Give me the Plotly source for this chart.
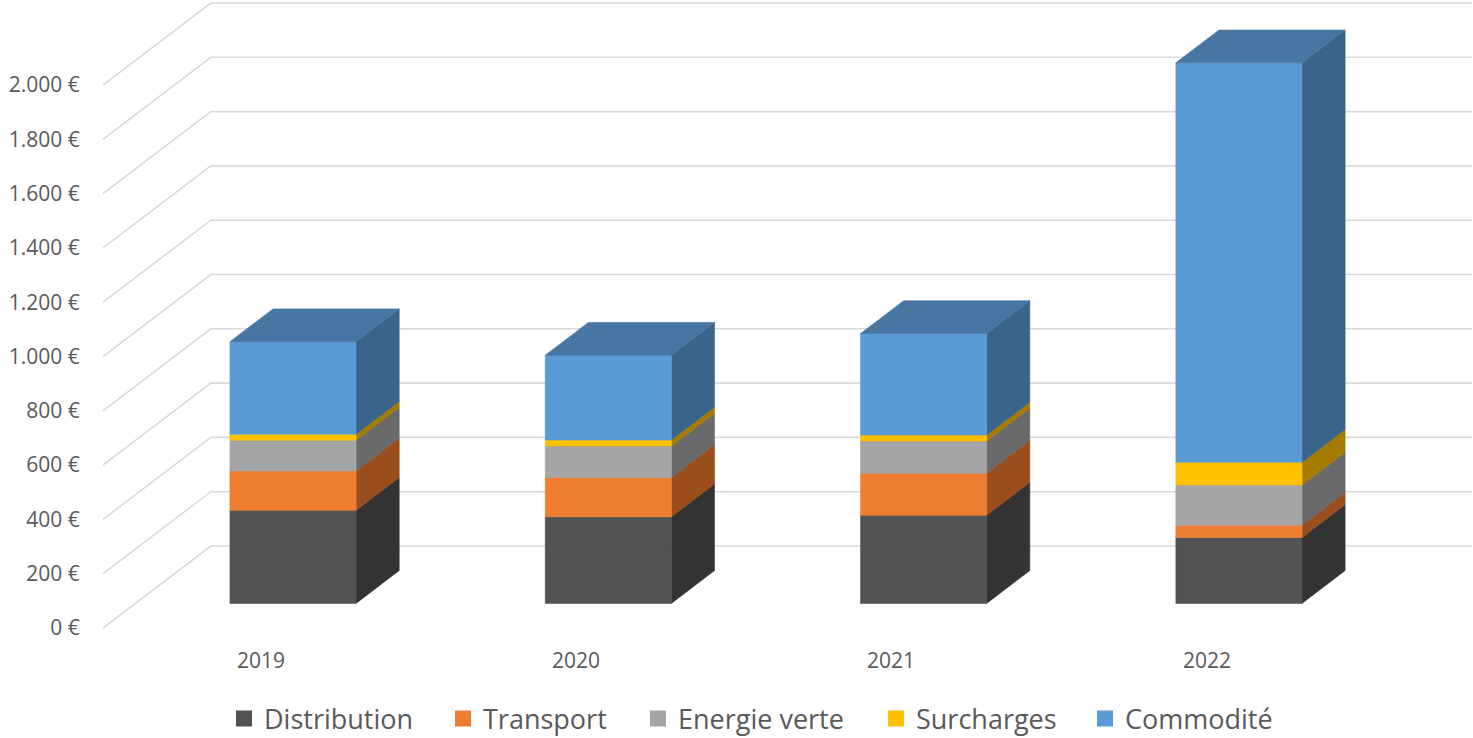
import plotly.graph_objects as go

# ---------------- data ----------------
years = ["2019", "2020", "2021", "2022"]
series_names = ["Distribution", "Transport", "Energie verte", "Surcharges", "Commodité"]
distribution = [343, 319, 325, 243]
transport = [145, 145, 154, 45]
energie_verte = [113, 116, 119, 148]
surcharges = [22, 22, 22, 84]
commodite = [341, 312, 374, 1471]
y_ticks = [0, 200, 400, 600, 800, 1000, 1200, 1400, 1600, 1800, 2000]
y_tick_labels = [f"{v:,}".replace(",", ".") + " €" for v in y_ticks]

series_values = [distribution, transport, energie_verte, surcharges, commodite]

# ---------------- style ----------------
front_colors = ["#525252", "#ED7D31", "#A5A5A5", "#FFC000", "#5B9BD5"]
side_colors = ["#333333", "#9A4E1D", "#6A6A6A", "#A67C00", "#3A6489"]
top_color = "#4676A1"
grid_color = "#D9D9D9"
text_color = "#595959"
FONT = "Open Sans"

W, H = 1473, 738
L_MARGIN = 103
PX_PER_UNIT_Y = 0.2715      # pixels per euro
Y0_PX = 628                 # pixel row of value 0 on the front plane

DX = 0.342   # full floor depth, x units
DY = 302.0   # full floor depth, y units
D0, D1 = 0.3, 0.7   # bar depth span (fraction of floor depth)
HALF_W = 0.2        # half bar width (category units)
X_LEFT, X_RIGHT = -0.5, len(years) - 0.5

# legend entry left-edge pixel positions and category label row
legend_px = [224, 443, 638, 876, 1085]
legend_row_px = 719
cat_label_row_px = 660

fig = go.Figure()

# gridlines (left wall + back wall)
gx, gy = [], []
for v in y_ticks:
    gx += [X_LEFT, X_LEFT + DX, X_RIGHT + DX, None]
    gy += [v, v + DY, v + DY, None]
fig.add_trace(go.Scatter(x=gx, y=gy, mode="lines", line=dict(color=grid_color, width=1.6),
                         hoverinfo="skip", showlegend=False))

ddx = (D1 - D0) * DX
ddy = (D1 - D0) * DY
n = len(years)
cum = [0.0] * n
for k, (name, vals) in enumerate(zip(series_names, series_values)):
    fx, fy, sx, sy = [], [], [], []
    for i in range(n):
        b = cum[i] + D0 * DY
        t = cum[i] + vals[i] + D0 * DY
        c = i + D0 * DX
        xl, xr = c - HALF_W, c + HALF_W
        fx += [xl, xr, xr, xl, xl, None]
        fy += [b, b, t, t, b, None]
        sx += [xr, xr + ddx, xr + ddx, xr, xr, None]
        sy += [b, b + ddy, t + ddy, t, b, None]
    fig.add_trace(go.Scatter(x=sx, y=sy, mode="lines", fill="toself", fillcolor=side_colors[k],
                             line=dict(color=side_colors[k], width=0.6),
                             hoverinfo="skip", showlegend=False))
    fig.add_trace(go.Scatter(x=fx, y=fy, mode="lines", fill="toself", fillcolor=front_colors[k],
                             line=dict(color=front_colors[k], width=0.6),
                             name=name, hovertemplate="%{text}<extra></extra>",
                             text=[f"{name} {years[i]}: {vals[i]} €" for i in range(n) for _ in range(6)],
                             showlegend=False))
    for i in range(n):
        cum[i] += vals[i]

# top faces of the stacks
tx, ty = [], []
for i in range(n):
    c = i + D0 * DX
    xl, xr = c - HALF_W, c + HALF_W
    T = cum[i] + D0 * DY
    tx += [xl, xr, xr + ddx, xl + ddx, xl, None]
    ty += [T, T, T + ddy, T + ddy, T, None]
fig.add_trace(go.Scatter(x=tx, y=ty, mode="lines", fill="toself", fillcolor=top_color,
                         line=dict(color=top_color, width=0.6),
                         hoverinfo="skip", showlegend=False))

# legend entries, one legend each so spacing follows the reference
plot_w = W - L_MARGIN
legend_layouts = {}
for k, name in enumerate(series_names):
    lid = "legend" if k == 0 else f"legend{k + 1}"
    fig.add_trace(go.Scatter(x=[None], y=[None], mode="markers", name=name, legend=lid,
                             marker=dict(symbol="square", size=16, color=front_colors[k])))
    legend_layouts[lid] = dict(
        orientation="h", x=(legend_px[k] - L_MARGIN) / plot_w, xanchor="left",
        y=1 - legend_row_px / H, yanchor="middle",
        font=dict(family=FONT, size=27, color=text_color), bgcolor="rgba(0,0,0,0)",
        borderwidth=0,
    )

# category labels on the front plane
for i, yr in enumerate(years):
    fig.add_annotation(x=i, xref="x", y=1 - cat_label_row_px / H, yref="paper",
                       text=yr, showarrow=False, xanchor="center", yanchor="middle",
                       font=dict(family=FONT, size=21, color=text_color))

y_min = -(H - Y0_PX) / PX_PER_UNIT_Y
y_max = Y0_PX / PX_PER_UNIT_Y

fig.update_layout(
    width=W, height=H,
    margin=dict(l=L_MARGIN, r=0, t=0, b=0, pad=0, autoexpand=False),
    paper_bgcolor="white", plot_bgcolor="white",
    font=dict(family=FONT, color=text_color, size=21),
    showlegend=True,
    xaxis=dict(range=[X_LEFT, X_RIGHT + DX + 0.003], showticklabels=False,
               showgrid=False, zeroline=False, showline=False, ticks="",
               fixedrange=True, automargin=False),
    yaxis=dict(range=[y_min, y_max], tickvals=y_ticks, ticktext=y_tick_labels,
               showgrid=False, zeroline=False, showline=False,
               ticks="outside", ticklen=18, tickcolor="rgba(0,0,0,0)",
               tickfont=dict(family=FONT, size=21, color=text_color),
               fixedrange=True, automargin=False),
    **legend_layouts,
)

fig.write_html("out.html", config={"displayModeBar": False},
               post_script="document.body.style.margin='0';document.body.style.overflow='hidden';")
